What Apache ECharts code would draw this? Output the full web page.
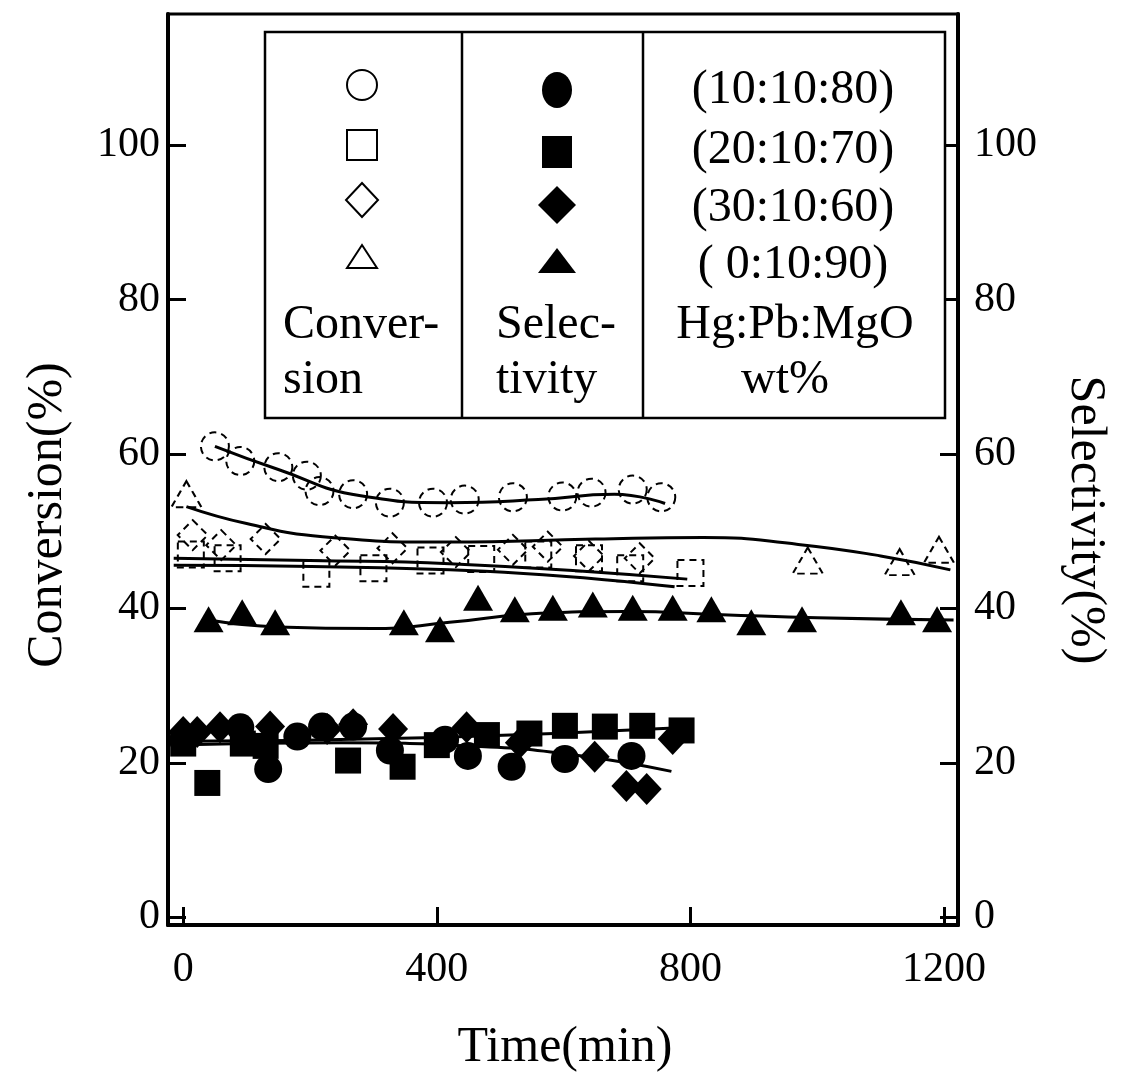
<!DOCTYPE html>
<html><head><meta charset="utf-8">
<script src="https://cdn.jsdelivr.net/npm/echarts@6/dist/echarts.min.js"></script>
<style>html,body{margin:0;padding:0;background:#fff}#c{width:1125px;height:1073px}</style>
</head><body><div id="c"></div>
<script>
// ---- tick labels ----
const timeTicks = [0, 400, 800, 1200];
const valueTicks = [0, 20, 40, 60, 80, 100];

// ---- Conversion (open symbols), [time(min), %] ----
const convCircle   = [[50,61],[90,59.1],[150,58.3],[195,57.2],[215,55.2],[268,54.8],[326,53.7],[394,53.7],[444,54.1],[520,54.4],[598,54.5],[644,55],[709,55.4],[754,54.4]];
const convSquare   = [[12,47],[70,46.5],[210,44.5],[300,45.2],[390,46.2],[470,46.4],[560,47],[640,46.5],[705,45.2],[800,44.6]];
const convDiamond  = [[15,49.5],[60,48.2],[130,49],[240,47.5],[330,47.8],[430,47.3],[520,47.6],[575,48],[640,46.8],[720,46.5]];
const convTriangle = [[5,54.8],[985,46.2],[1130,46],[1192,47.6]];

// ---- Selectivity (filled symbols), [time(min), %] ----
const selCircle   = [[0,22.9],[90,24.6],[134,19.2],[180,23.4],[219,24.7],[268,24.7],[326,21.6],[413,23],[449,20.9],[518,19.5],[602,20.5],[707,20.9]];
const selSquare   = [[0,22.5],[38,17.4],[94,22.5],[130,22.2],[260,20.3],[346,19.5],[400,22.3],[479,23.6],[546,23.8],[602,24.8],[665,24.7],[724,24.8],[786,24.2]];
const selDiamond  = [[0,24],[22,24],[58,24.6],[137,24.7],[227,24.4],[268,25],[331,24.4],[447,24.6],[531,22.6],[649,20.8],[699,17],[731,16.6],[772,23.1]];
const selTriangle = [[40,38.6],[93,39.5],[145,38.2],[348,38.2],[405,37.3],[465,41.4],[523,39.9],[583,40.1],[646,40.5],[709,40.1],[772,40.1],[833,39.9],[896,38.2],[976,38.6],[1132,39.5],[1189,38.6]];

// ---- hand-drawn trend curves ----
const convCircleFit   = [[50,61],[150,58],[280,54.6],[420,53.7],[560,54.1],[680,54.8],[760,53.6]];
const convTriangleFit = [[5,53.2],[100,51],[220,49.3],[420,48.6],[650,49],[820,49.2],[970,48.3],[1100,46.8],[1210,45]];
const convFitA        = [[-15,46.5],[200,46.2],[420,45.8],[795,43.8]];
const convFitB        = [[-15,45.6],[420,45],[775,42.8]];
const selTriangleFit  = [[40,38.5],[150,37.6],[300,37.4],[420,38.2],[550,39.3],[700,39.6],[850,39.2],[1000,38.8],[1215,38.5]];
const selFitA         = [[-15,22.8],[400,23.3],[800,24.6]];
const selFitB         = [[-15,22.3],[250,22.6],[450,22.2],[620,21],[770,18.9]];

const FONT = '"Liberation Serif","DejaVu Serif",serif';
const chart = echarts.init(document.getElementById('c'), null, {renderer:'canvas'});

function openScatter(name, data, symbol, size){
  return {name, type:'scatter', yAxisIndex:0, data, symbol, symbolSize:size,
    itemStyle:{color:'rgba(255,255,255,0)', borderColor:'#000', borderWidth:2, borderType:[7,5], opacity:1}, z:3};
}
function filledScatter(name, data, symbol, size){
  return {name, type:'scatter', yAxisIndex:1, data, symbol, symbolSize:size,
    itemStyle:{color:'#000', borderWidth:0, opacity:1}, z:4};
}
function fitLine(data, axis){
  return {type:'line', yAxisIndex:axis, data, smooth:true, showSymbol:false, symbol:'none',
    lineStyle:{color:'#000', width:3, opacity:1}, z:5, silent:true};
}

const axisCommon = {
  axisLine:{show:true, onZero:false, lineStyle:{color:'#000', width:4}},
  axisTick:{show:true, inside:true, length:18, lineStyle:{color:'#000', width:3}},
  splitLine:{show:false},
  axisLabel:{color:'#000', fontFamily:FONT, fontSize:42, formatter:(v)=>String(v)}
};

const option = {
  backgroundColor:'#fff',
  animation:false,
  grid:{left:168, right:167, top:14, bottom:148, show:true, borderColor:'#000', borderWidth:3, outerBoundsMode:'none'},
  xAxis:{type:'value', min:-24, max:1222, ...axisCommon,
    axisTick:{...axisCommon.axisTick, customValues:timeTicks},
    axisLabel:{...axisCommon.axisLabel, customValues:timeTicks, margin:24}},
  yAxis:[
    {type:'value', position:'left', min:-1, max:117, ...axisCommon,
      axisTick:{...axisCommon.axisTick, customValues:valueTicks},
      axisLabel:{...axisCommon.axisLabel, customValues:valueTicks, margin:8}},
    {type:'value', position:'right', min:-1, max:117, ...axisCommon,
      axisTick:{...axisCommon.axisTick, customValues:valueTicks},
      axisLabel:{...axisCommon.axisLabel, customValues:valueTicks, margin:16}}
  ],
  series:[
    fitLine(convCircleFit,0), fitLine(convTriangleFit,0), fitLine(convFitA,0), fitLine(convFitB,0),
    fitLine(selTriangleFit,1), fitLine(selFitA,1), fitLine(selFitB,1),
    openScatter('Conversion (10:10:80)', convCircle, 'circle', 28),
    openScatter('Conversion (20:10:70)', convSquare, 'rect', 26),
    openScatter('Conversion (30:10:60)', convDiamond, 'diamond', 30),
    openScatter('Conversion (0:10:90)', convTriangle, 'triangle', [30,26]),
    filledScatter('Selectivity (10:10:80)', selCircle, 'circle', 28),
    filledScatter('Selectivity (20:10:70)', selSquare, 'rect', 26),
    filledScatter('Selectivity (30:10:60)', selDiamond, 'diamond', [30,32]),
    filledScatter('Selectivity (0:10:90)', selTriangle, 'triangle', [30,26])
  ],
  graphic:[
    // legend table
    {type:'rect', shape:{x:265,y:32,width:680,height:386}, style:{fill:'#fff', stroke:'#000', lineWidth:2.5}, z:10},
    {type:'line', shape:{x1:462,y1:32,x2:462,y2:418}, style:{stroke:'#000', lineWidth:2.5}, z:11},
    {type:'line', shape:{x1:643,y1:32,x2:643,y2:418}, style:{stroke:'#000', lineWidth:2.5}, z:11},
    // open symbols
    {type:'circle', shape:{cx:362,cy:85,r:15}, style:{fill:'none', stroke:'#000', lineWidth:2}, z:11},
    {type:'rect', shape:{x:347,y:130,width:30,height:30}, style:{fill:'none', stroke:'#000', lineWidth:2}, z:11},
    {type:'polygon', shape:{points:[[362,183],[378,200],[362,217],[346,200]]}, style:{fill:'none', stroke:'#000', lineWidth:2}, z:11},
    {type:'polygon', shape:{points:[[362,245],[377,268],[347,268]]}, style:{fill:'none', stroke:'#000', lineWidth:2}, z:11},
    // filled symbols
    {type:'ellipse', shape:{cx:557,cy:90,rx:15,ry:18}, style:{fill:'#000'}, z:11},
    {type:'rect', shape:{x:542,y:136,width:30,height:32}, style:{fill:'#000'}, z:11},
    {type:'polygon', shape:{points:[[557,186],[576,205],[557,224],[538,205]]}, style:{fill:'#000'}, z:11},
    {type:'polygon', shape:{points:[[557,248],[576,273],[538,273]]}, style:{fill:'#000'}, z:11},
    // texts
    ...[['(10:10:80)',90],['(20:10:70)',150],['(30:10:60)',208],['( 0:10:90)',265]].map(([t,y])=>({
      type:'text', x:793, y:y, z:11,
      style:{text:t, font:'48px '+FONT, fill:'#000', align:'center', verticalAlign:'middle', textAlign:'center', textVerticalAlign:'middle'}})),
    ...[['Conver-',283,325,'left'],['sion',283,380,'left'],['Selec-',496,325,'left'],['tivity',496,380,'left'],['Hg:Pb:MgO',795,325,'center'],['wt%',785,380,'center']].map(([t,x,y,a])=>({
      type:'text', x:x, y:y, z:11,
      style:{text:t, font:'48px '+FONT, fill:'#000', align:a, verticalAlign:'middle', textAlign:a, textVerticalAlign:'middle'}})),
    // axis titles
    {type:'text', x:48, y:515, rotation:Math.PI/2, z:11,
      style:{text:'Conversion(%)', font:'50px '+FONT, fill:'#000', align:'center', verticalAlign:'middle', textAlign:'center', textVerticalAlign:'middle'}},
    {type:'text', x:1085, y:520, rotation:-Math.PI/2, z:11,
      style:{text:'Selectivity(%)', font:'50px '+FONT, fill:'#000', align:'center', verticalAlign:'middle', textAlign:'center', textVerticalAlign:'middle'}},
    {type:'text', x:565, y:1048, z:11,
      style:{text:'Time(min)', font:'50px '+FONT, fill:'#000', align:'center', verticalAlign:'middle', textAlign:'center', textVerticalAlign:'middle'}}
  ]
};
chart.setOption(option);
</script>
</body></html>
